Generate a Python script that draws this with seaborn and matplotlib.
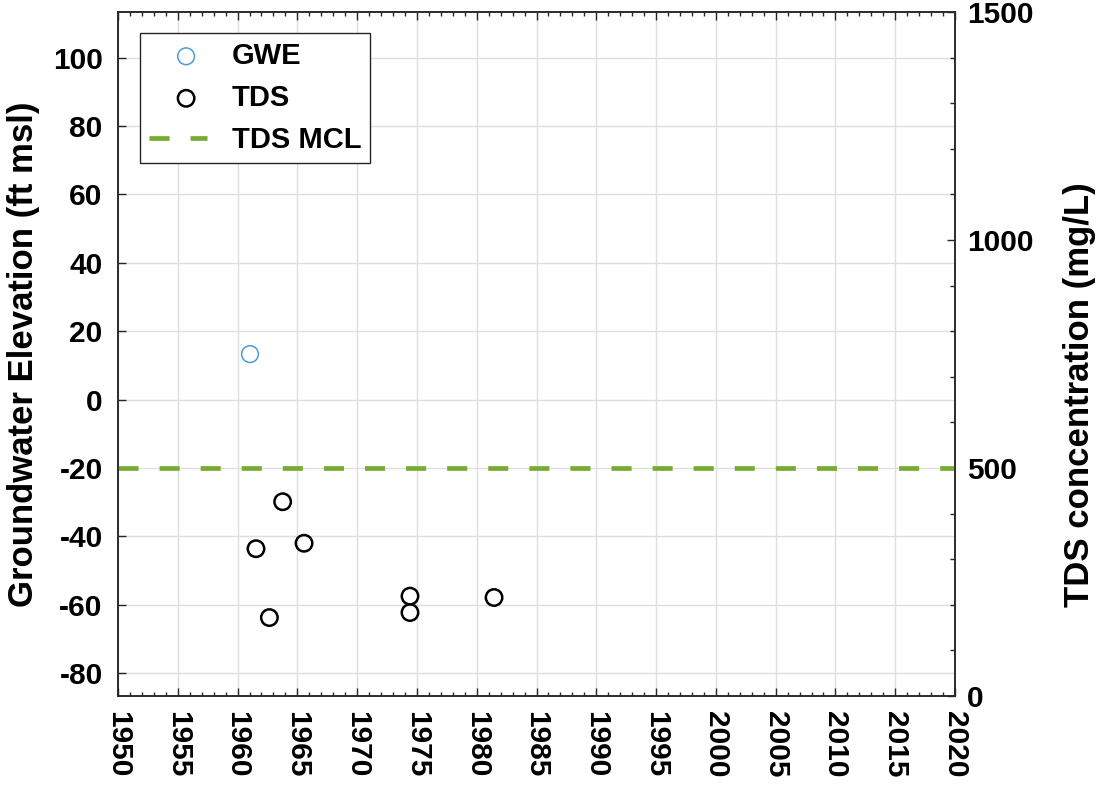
import matplotlib
matplotlib.use("Agg")
import matplotlib.pyplot as plt
import seaborn as sns
from matplotlib.ticker import MultipleLocator, FuncFormatter
from matplotlib.legend_handler import HandlerPathCollection

# Données
gwe_years = [1961.04]
gwe_values = [13.3]          # ft msl

tds_years = [1961.54, 1962.66, 1963.77, 1965.56, 1974.42, 1974.42, 1981.45]
tds_values = [323, 172, 426, 335, 219, 183, 216]   # mg/L

tds_mcl = 500                # mg/L

x_ticks = list(range(1950, 2021, 5))
gwe_ticks = list(range(-80, 101, 20))
tds_labelled = [0, 500, 1000, 1500]

sns.set_style("white")
plt.rcParams["font.family"] = ["Liberation Sans", "DejaVu Sans"]
plt.rcParams["font.weight"] = "bold"
plt.rcParams["axes.labelweight"] = "bold"
plt.rcParams["text.color"] = "black"
plt.rcParams["axes.labelcolor"] = "black"
plt.rcParams["axes.unicode_minus"] = False

FS = 21.5       # graduations
LFS = 25        # titres d'axes


class MarqueurDecale(HandlerPathCollection):
    # marqueur décalé vers la droite dans la légende (comme MATLAB)
    def get_xdata(self, legend, xdescent, ydescent, width, height, fontsize):
        xd, xm = super().get_xdata(legend, xdescent, ydescent, width, height, fontsize)
        return xd, [x + 0.14 * width for x in xm]


W, H = 1097, 786
fig = plt.figure(figsize=(W / 100, H / 100), dpi=100)
ax = fig.add_axes([118 / W, 90 / H, 837 / W, 684 / H])
ax2 = ax.twinx()

# Niveau piézométrique (axe gauche)
sns.scatterplot(x=gwe_years, y=gwe_values, ax=ax, marker="o", s=145,
                facecolor="none", edgecolor="#4C9BD6", linewidth=1.1,
                label="GWE", legend=False, zorder=3)

# TDS (axe droit)
sns.scatterplot(x=tds_years, y=tds_values, ax=ax2, marker="o", s=140,
                facecolor="none", edgecolor="black", linewidth=1.8,
                label="TDS", legend=False, zorder=3)
ax2.axhline(tds_mcl, color="#77AC30", lw=3.4, dashes=(4.25, 4.45),
            label="TDS MCL", zorder=2)

# Axes
ax.set_xlim(1950, 2020)
ax.set_ylim(-86.667, 113.333)
ax2.set_ylim(0, 1500)

ax.set_xticks(x_ticks)
ax.xaxis.set_minor_locator(MultipleLocator(1))
ax.set_yticks(gwe_ticks)
ax2.yaxis.set_major_locator(MultipleLocator(500))
ax2.yaxis.set_minor_locator(MultipleLocator(100))
ax2.yaxis.set_major_formatter(FuncFormatter(
    lambda v, p: f"{int(v)}" if int(round(v)) in tds_labelled else ""))

ax.grid(True, which="major", color="#dedede", lw=1.0)
ax.set_axisbelow(True)

ax.tick_params(axis="x", which="both", direction="in", top=True, bottom=True,
               labelsize=FS, labelrotation=-90, pad=11, colors="#262626",
               labelcolor="black")
ax.tick_params(axis="x", which="major", length=6, width=1)
ax.tick_params(axis="x", which="minor", length=3, width=1)
ax.tick_params(axis="y", which="major", direction="in", left=True, right=False,
               length=6, width=1, labelsize=FS, pad=11, colors="#262626",
               labelcolor="black")
ax2.tick_params(axis="y", which="both", direction="in", right=True,
                labelsize=FS, pad=8.5, colors="#262626", labelcolor="black")
ax2.tick_params(axis="y", which="major", length=6, width=1)
ax2.tick_params(axis="y", which="minor", length=3.6, width=1)

for a in (ax, ax2):
    for sp in a.spines.values():
        sp.set_color("#262626")
        sp.set_linewidth(1.1)
        sp.set_visible(True)

ax.set_ylabel("Groundwater Elevation (ft msl)", fontsize=LFS, fontweight="bold")
ax.yaxis.set_label_coords(-0.093, 0.5)
ax2.set_ylabel("TDS concentration (mg/L)", fontsize=LFS, fontweight="bold")
ax2.yaxis.set_label_coords(1.129, 0.44)

# Légende commune
h1, l1 = ax.get_legend_handles_labels()
h2, l2 = ax2.get_legend_handles_labels()
handles = h1 + h2
leg = ax2.legend(handles, l1 + l2, loc="upper left",
                 bbox_to_anchor=(0.0263, 0.969), borderaxespad=0,
                 frameon=True, fancybox=False, shadow=False,
                 handlelength=2.0, handletextpad=0.85, borderpad=0.3,
                 labelspacing=0.48, prop={"weight": "bold", "size": 21},
                 handler_map={h: MarqueurDecale() for h in handles[:2]})
leg.get_frame().set_edgecolor("#262626")
leg.get_frame().set_linewidth(1.0)
leg.get_frame().set_alpha(1)

fig.savefig("out.png", dpi=100)
